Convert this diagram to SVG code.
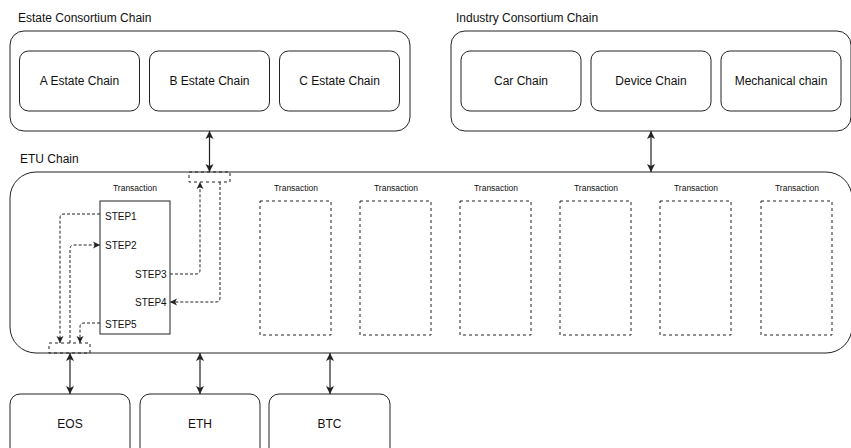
<svg xmlns="http://www.w3.org/2000/svg" width="851" height="448" viewBox="0 0 851 448">
<style>
  .box { fill: #fff; stroke: #222; stroke-width: 1; }
  .dbox { fill: none; stroke: #222; stroke-width: 1; stroke-dasharray: 3 3; }
  .t { font-family: "Liberation Sans", Arial, sans-serif; fill: #111; }
  .lbl { font-size: 12px; }
  .big { font-size: 12px; text-anchor: middle; dominant-baseline: central; }
  .tx { font-size: 8.5px; text-anchor: middle; dominant-baseline: central; }
  .st { font-size: 10px; dominant-baseline: central; }
  .conn { fill: none; stroke: #222; stroke-width: 1.2; }
  .dconn { fill: none; stroke: #222; stroke-width: 1; stroke-dasharray: 3 2; }
</style>
<defs>
  <marker id="arr" markerUnits="userSpaceOnUse" markerWidth="10" markerHeight="10" refX="8" refY="4" orient="auto-start-reverse" viewBox="0 0 10 8">
    <path d="M0,0 L8,4 L0,8 L2,4 z" fill="#222"/>
  </marker>
  <marker id="darr" markerUnits="userSpaceOnUse" markerWidth="8" markerHeight="8" refX="7" refY="3.5" orient="auto" viewBox="0 0 8 7">
    <path d="M0,0 L7,3.5 L0,7 L1.8,3.5 z" fill="#222"/>
  </marker>
</defs>

<g id="estate-consortium">
  <text class="t lbl" x="18" y="22">Estate Consortium Chain</text>
  <rect class="box" x="10" y="31" width="400" height="100" rx="14"/>
  <g id="a-estate"><rect class="box" x="19.5" y="51" width="120" height="60" rx="9"/><text class="t big" x="79.5" y="81">A Estate Chain</text></g>
  <g id="b-estate"><rect class="box" x="149.5" y="51" width="120" height="60" rx="9"/><text class="t big" x="209.5" y="81">B Estate Chain</text></g>
  <g id="c-estate"><rect class="box" x="279.5" y="51" width="120" height="60" rx="9"/><text class="t big" x="339.5" y="81">C Estate Chain</text></g>
</g>

<g id="industry-consortium">
  <text class="t lbl" x="456" y="22">Industry Consortium Chain</text>
  <rect class="box" x="451" y="31" width="400" height="100" rx="14"/>
  <g id="car"><rect class="box" x="461" y="51" width="120" height="60" rx="9"/><text class="t big" x="521" y="81">Car Chain</text></g>
  <g id="device"><rect class="box" x="591" y="51" width="120" height="60" rx="9"/><text class="t big" x="651" y="81">Device Chain</text></g>
  <g id="mechanical"><rect class="box" x="721" y="51" width="120" height="60" rx="9"/><text class="t big" x="781" y="81">Mechanical chain</text></g>
</g>

<g id="etu-chain">
  <text class="t lbl" x="20" y="163">ETU Chain</text>
  <rect class="box" x="10" y="172" width="842" height="181" rx="26"/>
  <rect id="top-port" class="dbox" x="189" y="172" width="41" height="10"/>
  <rect id="bottom-port" class="dbox" x="49" y="343" width="41" height="10"/>
</g>

<g id="transaction-1">
  <text class="t tx" x="135" y="188">Transaction</text>
  <rect class="box" x="100" y="201" width="70" height="133"/>
  <text class="t st" x="105" y="216">STEP1</text>
  <text class="t st" x="105" y="245">STEP2</text>
  <text class="t st" x="135" y="274">STEP3</text>
  <text class="t st" x="135" y="302">STEP4</text>
  <text class="t st" x="105" y="324">STEP5</text>
</g>
<g id="transaction-2"><text class="t tx" x="296" y="188">Transaction</text><rect class="dbox" x="260" y="201" width="71" height="134"/></g>
<g id="transaction-3"><text class="t tx" x="396" y="188">Transaction</text><rect class="dbox" x="360" y="201" width="71" height="134"/></g>
<g id="transaction-4"><text class="t tx" x="496" y="188">Transaction</text><rect class="dbox" x="460" y="201" width="71" height="134"/></g>
<g id="transaction-5"><text class="t tx" x="596" y="188">Transaction</text><rect class="dbox" x="560" y="201" width="71" height="134"/></g>
<g id="transaction-6"><text class="t tx" x="696" y="188">Transaction</text><rect class="dbox" x="660" y="201" width="71" height="134"/></g>
<g id="transaction-7"><text class="t tx" x="797" y="188">Transaction</text><rect class="dbox" x="761" y="201" width="71" height="134"/></g>

<g id="eos"><rect class="box" x="10" y="394" width="120" height="70" rx="10"/><text class="t big" x="70" y="424">EOS</text></g>
<g id="eth"><rect class="box" x="140" y="394" width="120" height="70" rx="10"/><text class="t big" x="200" y="424">ETH</text></g>
<g id="btc"><rect class="box" x="269" y="394" width="121" height="70" rx="10"/><text class="t big" x="329.5" y="424">BTC</text></g>

<g id="connectors">
  <line class="conn" x1="209.5" y1="131" x2="209.5" y2="172" marker-start="url(#arr)" marker-end="url(#arr)"/>
  <line class="conn" x1="651" y1="131" x2="651" y2="172" marker-start="url(#arr)" marker-end="url(#arr)"/>
  <line class="conn" x1="70" y1="353" x2="70" y2="394" marker-start="url(#arr)" marker-end="url(#arr)"/>
  <line class="conn" x1="200" y1="353" x2="200" y2="394" marker-start="url(#arr)" marker-end="url(#arr)"/>
  <line class="conn" x1="330" y1="353" x2="330" y2="394" marker-start="url(#arr)" marker-end="url(#arr)"/>
  <path class="dconn" d="M100,214 L64,214 Q60,214 60,218 L60,343" marker-end="url(#darr)"/>
  <path class="dconn" d="M70,343 L70,249 Q70,245 74,245 L100,245" marker-end="url(#darr)"/>
  <path class="dconn" d="M170,274 L196,274 Q200,274 200,270 L200,182" marker-end="url(#darr)"/>
  <path class="dconn" d="M220,182 L220,298 Q220,302 216,302 L170,302" marker-end="url(#darr)"/>
  <path class="dconn" d="M100,323 L84,323 Q80,323 80,327 L80,343" marker-end="url(#darr)"/>
</g>
</svg>
